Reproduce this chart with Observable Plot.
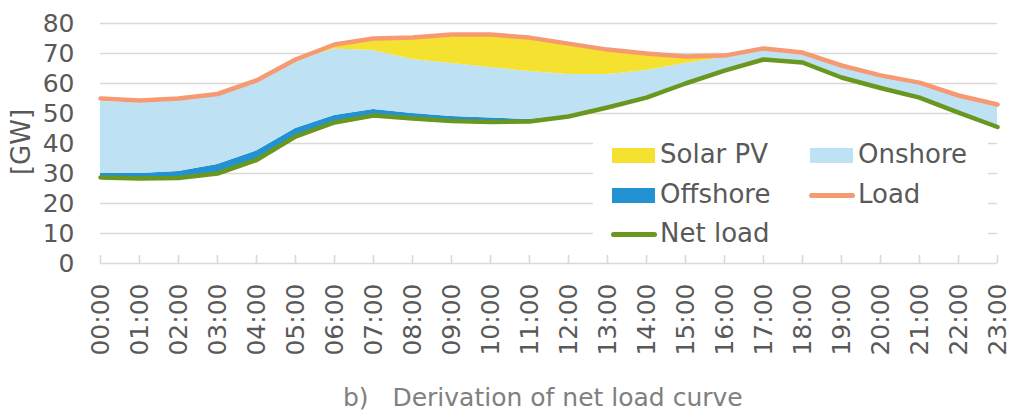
<!DOCTYPE html>
<html><head><meta charset="utf-8">
<script src="https://cdn.jsdelivr.net/npm/d3@7"></script>
<script src="https://cdn.jsdelivr.net/npm/@observablehq/plot@0.6"></script>
<style>
body{margin:0;background:#fff;font-family:"DejaVu Sans",Verdana,sans-serif;}
#wrap{position:relative;width:1013px;height:415px;overflow:hidden;}
.lg{position:absolute;font-size:26px;color:#595959;line-height:1;white-space:nowrap;}
.sw{position:absolute;}
#legend{position:absolute;left:593px;top:137px;width:395px;height:115px;background:#fff;}
#ylab{position:absolute;left:21px;top:142px;font-size:26px;color:#595959;transform:translate(-50%,-50%) rotate(-90deg);white-space:nowrap;}
#cap{position:absolute;left:343px;top:383px;font-size:25px;color:#808080;white-space:pre;}
</style></head><body><div id="wrap"></div>
<script>
const hourLabels = ["00:00","01:00","02:00","03:00","04:00","05:00","06:00","07:00","08:00","09:00","10:00","11:00","12:00","13:00","14:00","15:00","16:00","17:00","18:00","19:00","20:00","21:00","22:00","23:00"];
const netLoad  = [28.7,28.3,28.5,30.0,34.5,42.3,47.0,49.3,48.3,47.5,47.2,47.3,49.0,52.0,55.3,60.0,64.3,68.0,67.0,62.0,58.5,55.3,50.3,45.5];
const offshore = [1.3,1.7,2.2,3.0,3.0,2.7,2.3,2.0,1.7,1.5,1.3,0.7,0.3,0,0,0,0,0,0,0,0,0,0,0];
const onshore  = [24.0,23.5,23.8,23.0,23.0,22.5,22.2,19.7,18.0,17.7,16.8,16.0,13.7,11.0,9.0,6.7,4.4,3.0,3.0,4.0,4.2,5.0,5.7,7.0];
const solar    = [0,0,0,0,0,0,1.5,4.0,7.3,9.6,11.0,11.3,10.3,8.3,5.7,2.3,0.6,0.7,0,0,0,0,0,0];
const load     = [55.0,54.3,55.0,56.5,61.0,68.0,73.0,75.0,75.3,76.3,76.3,75.3,73.3,71.3,70.0,69.0,69.3,71.7,70.3,66.0,62.7,60.3,56.0,53.0];
const yTicks = [0,10,20,30,40,50,60,70,80];
const colors = {"Solar PV":"#f5e12f","Onshore":"#bfe1f4","Offshore":"#2392d3","Load":"#f79a72","Net load":"#6a981f"};

const rows = hourLabels.map((h,i)=>{
  const b = netLoad[i], o = b+offshore[i], on = o+onshore[i], s = on+solar[i];
  return {i, h, net:b, offTop:o, onTop:on, solarTop:s, load:load[i]};
});
const curve = "linear";
const plot = Plot.plot({
  width:1013, height:375, marginLeft:100, marginRight:16, marginTop:23, marginBottom:112,
  style:{fontFamily:"DejaVu Sans, Verdana, sans-serif", fontSize:"25px", color:"#595959", background:"transparent", overflow:"visible"},
  x:{type:"linear", domain:[0,23]},
  y:{domain:[0,80]},
  marks:[
    Plot.ruleY(yTicks, {y:d=>d, stroke:"#d9d9d9", strokeWidth:1.6, strokeOpacity:1}),
    Plot.areaY(rows,{x:"i", y1:"net", y2:"offTop", fill:colors["Offshore"], curve}),
    Plot.areaY(rows,{x:"i", y1:"offTop", y2:"onTop", fill:colors["Onshore"], curve}),
    Plot.areaY(rows,{x:"i", y1:"onTop", y2:"solarTop", fill:colors["Solar PV"], curve}),
    Plot.ruleX(rows, {x:"i", y1:0, y2:2.7, stroke:"#d9d9d9", strokeWidth:1.6}),
    Plot.lineY(rows,{x:"i", y:"load", stroke:colors["Load"], strokeWidth:4.5, curve, strokeLinecap:"round", strokeLinejoin:"round"}),
    Plot.lineY(rows,{x:"i", y:"net", stroke:colors["Net load"], strokeWidth:4.5, curve, strokeLinecap:"round", strokeLinejoin:"round"}),
    Plot.axisY({ticks:yTicks, tickSize:0, tickPadding:26, label:null, fontSize:25}),
    Plot.axisX({ticks:d3.range(hourLabels.length), tickFormat:i=>hourLabels[i], tickRotate:-90, tickSize:0, tickPadding:20, label:null, fontSize:25})
  ]
});
const wrap = document.getElementById("wrap");
wrap.appendChild(plot);

const legend = document.createElement("div");
legend.id = "legend";
wrap.appendChild(legend);
const items = [
  {name:"Solar PV", kind:"rect", sx:612, tx:660, cy:155},
  {name:"Onshore", kind:"rect", sx:810, tx:858, cy:155},
  {name:"Offshore", kind:"rect", sx:612, tx:660, cy:195},
  {name:"Load", kind:"line", sx:810, tx:858, cy:195},
  {name:"Net load", kind:"line", sx:612, tx:660, cy:234}
];
for (const it of items) {
  const sw = document.createElement("div");
  sw.className = "sw";
  if (it.kind === "rect") {
    Object.assign(sw.style, {left:it.sx+"px", top:(it.cy-7.5)+"px", width:"43px", height:"15px", background:colors[it.name]});
  } else {
    Object.assign(sw.style, {left:(it.sx-1)+"px", top:(it.cy-2.5)+"px", width:"46px", height:"5px", borderRadius:"3px", background:colors[it.name]});
  }
  wrap.appendChild(sw);
  const t = document.createElement("div");
  t.className = "lg";
  t.textContent = it.name;
  Object.assign(t.style, {left:it.tx+"px", top:(it.cy-14)+"px"});
  wrap.appendChild(t);
}
const yl = document.createElement("div");
yl.id = "ylab"; yl.textContent = "[GW]";
wrap.appendChild(yl);
const cap = document.createElement("div");
cap.id = "cap"; cap.textContent = "b)   Derivation of net load curve";
wrap.appendChild(cap);
</script></body></html>
